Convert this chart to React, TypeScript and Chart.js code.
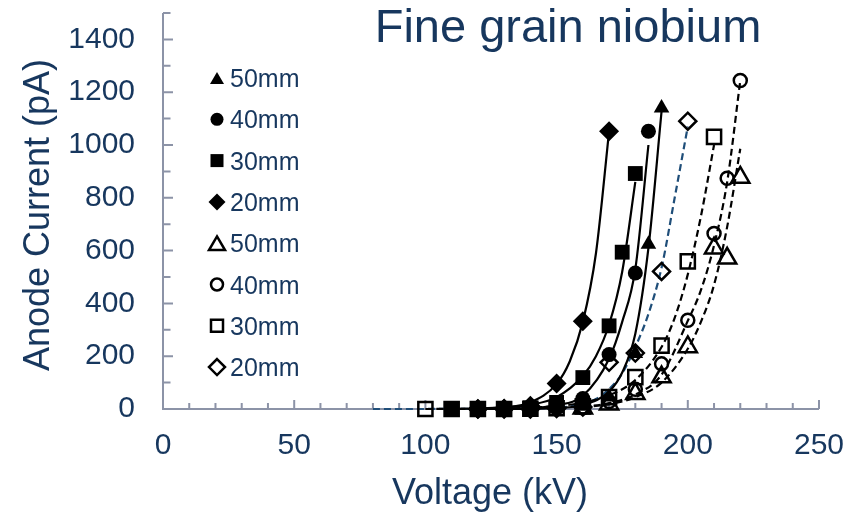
import React, { useEffect, useRef } from 'react';
import { Chart, registerables } from 'chart.js';

Chart.register(...registerables);

const TEXT = '#17375E';
const AXIS = '#8C93A7';
const BLUE = '#1F4E79';
const FONT = "'Liberation Sans', Arial, Helvetica, sans-serif";

const titleText = 'Fine grain niobium';
const xTitle = 'Voltage (kV)';
const yTitle = 'Anode Current (pA)';
const xTickValues = [0, 50, 100, 150, 200, 250];
const yTickValues = [0, 200, 400, 600, 800, 1000, 1200, 1400];
const legendLabels = ['50mm', '40mm', '30mm', '20mm', '50mm', '40mm', '30mm', '20mm'];

// Filled markers (solid trendlines)
const tri50V = [120, 130, 140, 150, 160, 170, 180, 185, 190];
const tri50I = [0, 0, 0, 3, 10, 45, 210, 624, 1140];
const cir40V = [120, 130, 140, 150, 160, 170, 180, 185];
const cir40I = [0, 0, 2, 8, 40, 206, 515, 1052];
const sq30V = [110, 120, 130, 140, 150, 160, 170, 175, 180];
const sq30I = [0, 0, 0, 4, 25, 119, 315, 594, 892];
const dia20V = [120, 130, 140, 150, 160, 170];
const dia20I = [0, 2, 12, 97, 332, 1052];

// Open markers (dashed trendlines)
const oTri50V = [160, 170, 180, 190, 200, 210, 215, 220];
const oTri50I = [3, 18, 58, 121, 235, 609, 571, 877];
const oCir40V = [160, 170, 180, 190, 200, 210, 215, 220];
const oCir40I = [5, 28, 75, 171, 336, 665, 874, 1244];
const oSq30V = [100, 110, 120, 130, 140, 150, 160, 170, 180, 190, 200, 210];
const oSq30I = [0, 0, 0, 0, 1, 3, 10, 45, 121, 240, 559, 1031];
const oDia20V = [120, 130, 140, 150, 160, 170, 180, 190, 200];
const oDia20I = [0, 0, 0, 2, 8, 177, 212, 521, 1090];

// Trendlines
const trTri50V = [120, 130, 140, 150, 160, 170, 175, 180, 185, 190];
const trTri50I = [0, 0.3, 1, 4, 15, 66, 138, 285, 610, 1127];
const trCir40V = [120, 130, 140, 150, 160, 170, 175, 180, 185];
const trCir40I = [0.3, 1, 4, 14, 50, 190, 330, 530, 1000];
const trSq30V = [110, 120, 130, 140, 150, 160, 165, 170, 175, 180];
const trSq30I = [0.5, 2, 6, 16, 45, 125, 200, 320, 520, 860];
const trDia20V = [120, 130, 140, 150, 155, 160, 165, 170];
const trDia20I = [1, 6, 25, 95, 180, 330, 590, 1052];

const trOTri50V = [160, 170, 180, 190, 200, 205, 210, 215, 220];
const trOTri50I = [7, 18, 45, 100, 228, 330, 470, 690, 986];
const trOCir40V = [160, 170, 180, 190, 200, 205, 210, 215, 220];
const trOCir40I = [8, 22, 55, 130, 334, 450, 620, 860, 1244];
const trOSq30V = [100, 110, 120, 130, 140, 150, 160, 170, 180, 190, 195, 200, 205, 210];
const trOSq30I = [0, 0.3, 1, 2, 5, 11, 24, 52, 110, 235, 345, 510, 730, 1000];
const trODia20V = [80, 100, 120, 140, 150, 160, 165, 170, 175, 180, 185, 190, 195, 200];
const trODia20I = [0, 0.1, 0.5, 2, 5, 18, 38, 75, 135, 235, 360, 535, 800, 1070];

const pts = (v: number[], i: number[]) => v.map((x, k) => ({ x, y: i[k] }));

type MarkerKind = 'triangle' | 'circle' | 'rect' | 'rectRot';

const markerDs = (v: number[], i: number[], style: MarkerKind, r: number, filled: boolean) => ({
  data: pts(v, i),
  showLine: false,
  pointStyle: style,
  pointRadius: r,
  pointHoverRadius: r,
  pointBackgroundColor: filled ? '#000000' : 'rgba(0,0,0,0)',
  pointBorderColor: '#000000',
  pointBorderWidth: filled ? 0 : 2.5,
  order: 1,
  clip: false as const,
});

const lineDs = (v: number[], i: number[], color: string, dashed: boolean) => ({
  data: pts(v, i),
  showLine: true,
  pointRadius: 0,
  pointHoverRadius: 0,
  borderColor: color,
  borderWidth: 2.2,
  borderDash: dashed ? [7, 4] : [],
  cubicInterpolationMode: 'monotone' as const,
  fill: false,
  order: 5,
  clip: false as const,
});

function drawMarker(ctx: CanvasRenderingContext2D, kind: MarkerKind, x: number, y: number, r: number, filled: boolean) {
  ctx.beginPath();
  if (kind === 'circle') {
    ctx.arc(x, y, r, 0, Math.PI * 2);
  } else if (kind === 'rect') {
    ctx.rect(x - r, y - r, 2 * r, 2 * r);
  } else if (kind === 'rectRot') {
    ctx.moveTo(x, y - r);
    ctx.lineTo(x + r, y);
    ctx.lineTo(x, y + r);
    ctx.lineTo(x - r, y);
    ctx.closePath();
  } else {
    const h = r * 1.7;
    ctx.moveTo(x, y - h / 2);
    ctx.lineTo(x + r, y + h / 2);
    ctx.lineTo(x - r, y + h / 2);
    ctx.closePath();
  }
  if (filled) {
    ctx.fillStyle = '#000';
    ctx.fill();
  } else {
    ctx.fillStyle = '#fff';
    ctx.fill();
    ctx.lineWidth = 2.5;
    ctx.strokeStyle = '#000';
    ctx.stroke();
  }
}

const legendKinds: MarkerKind[] = ['triangle', 'circle', 'rect', 'rectRot', 'triangle', 'circle', 'rect', 'rectRot'];
const legendSizes = [7, 6.5, 6.5, 8.5, 8, 6, 6, 8];

const decorPlugin = {
  id: 'decor',
  beforeDatasetsDraw(chart: any) {
    const ctx: CanvasRenderingContext2D = chart.ctx;
    const xs = chart.scales.x;
    const ys = chart.scales.y;
    const left = xs.getPixelForValue(0);
    const right = xs.getPixelForValue(250);
    const bottom = ys.getPixelForValue(0);
    const top = ys.getPixelForValue(1500);
    ctx.save();
    ctx.strokeStyle = AXIS;
    ctx.lineWidth = 2;
    ctx.beginPath();
    ctx.moveTo(left, top);
    ctx.lineTo(left, bottom);
    ctx.lineTo(right, bottom);
    ctx.stroke();
    ctx.beginPath();
    for (let v = 10; v <= 250; v += 10) {
      const px = xs.getPixelForValue(v);
      const len = v % 50 === 0 ? 9 : 6;
      ctx.moveTo(px, bottom);
      ctx.lineTo(px, bottom - len);
    }
    for (let v = 100; v <= 1500; v += 100) {
      const py = ys.getPixelForValue(v);
      const len = v % 200 === 0 ? 10 : 7.5;
      ctx.moveTo(left, py);
      ctx.lineTo(left + len, py);
    }
    ctx.stroke();
    ctx.restore();
  },
  afterDraw(chart: any) {
    const ctx: CanvasRenderingContext2D = chart.ctx;
    ctx.save();
    ctx.fillStyle = TEXT;
    ctx.font = `47px ${FONT}`;
    ctx.textAlign = 'center';
    ctx.textBaseline = 'alphabetic';
    ctx.fillText(titleText, 568, 42);
    ctx.font = `36px ${FONT}`;
    ctx.fillText(xTitle, 490, 504);
    ctx.save();
    ctx.translate(49, 215);
    ctx.rotate(-Math.PI / 2);
    ctx.fillText(yTitle, 0, 0);
    ctx.restore();
    ctx.font = `25px ${FONT}`;
    ctx.textAlign = 'left';
    for (let k = 0; k < legendLabels.length; k++) {
      const cy = 78 + k * 41.3;
      drawMarker(ctx, legendKinds[k], 217, cy, legendSizes[k], k < 4);
      ctx.fillStyle = TEXT;
      ctx.fillText(legendLabels[k], 230, cy + 9);
    }
    ctx.restore();
  },
};

export default function App() {
  const canvasRef = useRef<HTMLCanvasElement | null>(null);

  useEffect(() => {
    if (!canvasRef.current) return;
    const chart = new Chart(canvasRef.current, {
      type: 'scatter',
      data: {
        datasets: [
          markerDs(tri50V, tri50I, 'triangle', 9, true),
          markerDs(cir40V, cir40I, 'circle', 7.5, true),
          markerDs(sq30V, sq30I, 'rect', 10.5, true),
          markerDs(dia20V, dia20I, 'rectRot', 10, true),
          markerDs(oTri50V, oTri50I, 'triangle', 10.5, false),
          markerDs(oCir40V, oCir40I, 'circle', 6.5, false),
          markerDs(oSq30V, oSq30I, 'rect', 10, false),
          markerDs(oDia20V, oDia20I, 'rectRot', 8.5, false),
          lineDs(trTri50V, trTri50I, '#000000', false),
          lineDs(trCir40V, trCir40I, '#000000', false),
          lineDs(trSq30V, trSq30I, '#000000', false),
          lineDs(trDia20V, trDia20I, '#000000', false),
          lineDs(trOTri50V, trOTri50I, '#000000', true),
          lineDs(trOCir40V, trOCir40I, '#000000', true),
          lineDs(trOSq30V, trOSq30I, '#000000', true),
          lineDs(trODia20V, trODia20I, BLUE, true),
        ] as any,
      },
      options: {
        animation: false,
        responsive: true,
        maintainAspectRatio: false,
        layout: { padding: { top: 9, right: 44, left: 0, bottom: 0 } },
        plugins: {
          legend: { display: false },
          tooltip: { enabled: false },
          title: { display: false },
        },
        scales: {
          x: {
            type: 'linear',
            min: 0,
            max: 250,
            afterBuildTicks: (s: any) => {
              s.ticks = xTickValues.map((value) => ({ value }));
            },
            afterFit: (s: any) => {
              s.height = 108;
              s.paddingLeft = 0;
              s.paddingRight = 0;
              s.paddingTop = 0;
              s.paddingBottom = 0;
            },
            grid: { display: false, drawTicks: false },
            border: { display: false },
            ticks: {
              color: TEXT,
              font: { family: FONT, size: 30 },
              padding: 19,
              maxRotation: 0,
              autoSkip: false,
              callback: (v: any) => String(v),
            },
          },
          y: {
            type: 'linear',
            min: 0,
            max: 1500,
            afterBuildTicks: (s: any) => {
              s.ticks = yTickValues.map((value) => ({ value }));
            },
            afterFit: (s: any) => {
              s.width = 163;
              s.paddingLeft = 0;
              s.paddingRight = 0;
              s.paddingTop = 0;
              s.paddingBottom = 0;
            },
            grid: { display: false, drawTicks: false },
            border: { display: false },
            ticks: {
              color: TEXT,
              font: { family: FONT, size: 30 },
              padding: 28,
              autoSkip: false,
              callback: (v: any) => String(v),
            },
          },
        },
      },
      plugins: [decorPlugin],
    });
    return () => chart.destroy();
  }, []);

  return (
    <div style={{ position: 'fixed', left: 0, top: 0, width: 863, height: 517, background: '#fff' }}>
      <canvas ref={canvasRef} />
    </div>
  );
}
